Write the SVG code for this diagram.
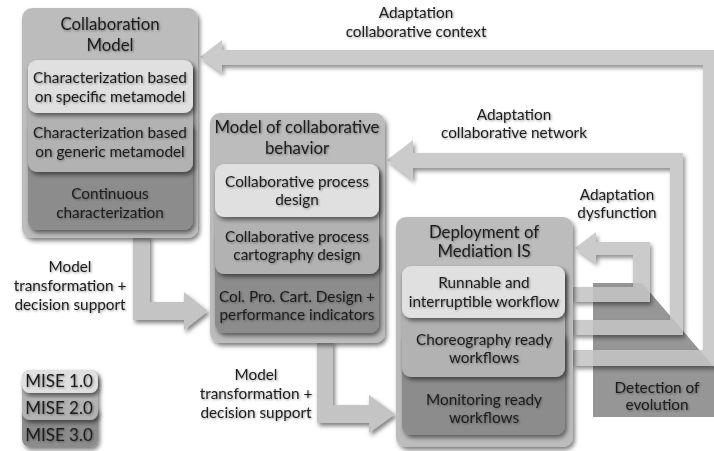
<svg xmlns="http://www.w3.org/2000/svg" width="714" height="451" viewBox="0 0 714 451">
<style>
text{font-family:"Lato","Open Sans",sans-serif;fill:#1c1c1c;text-anchor:middle;filter:url(#ts)}
.t{font-size:16.8px}
.s{font-size:15.3px}
.g{font-size:17px}
.outer{fill:#bcbcbc;filter:url(#sh)}
.l1{fill:#e0e0e0;filter:url(#sh)}
.l2{fill:#b2b2b2;filter:url(#sh)}
.l3{fill:#8c8c8c;filter:url(#sh)}
.bar{fill:#c4c4c4;filter:url(#sh)}
</style>
<defs>
<filter id="sh" x="-10%" y="-10%" width="130%" height="130%">
<feDropShadow dx="2" dy="3" stdDeviation="2" flood-color="#000" flood-opacity="0.5"/>
</filter>
<filter id="ts" x="-10%" y="-30%" width="120%" height="160%">
<feDropShadow dx="1" dy="1" stdDeviation="1.3" flood-color="#000" flood-opacity="0.4"/>
</filter>
</defs>
<rect width="714" height="451" fill="#fff"/>

<g id="detection">
<polygon points="593,283 642,283 714,367 714,417 593,417" fill="#969696"/>
<text class="s" x="657" y="393">Detection of</text>
<text class="s" x="657" y="410">evolution</text>
</g>

<g id="connectors">
<path class="bar" opacity="0.88" d="M573,366 L718,366 L718,50 L222,50 L222,40 L200,57 L222,73 L222,65 L703,65 L703,350 L573,350 Z"/>
<path class="bar" opacity="0.88" d="M573,335 L683,335 L683,153 L413,153 L413,140 L387,160 L413,180 L413,168 L670,168 L670,320 L573,320 Z"/>
<path class="bar" opacity="0.88" d="M573,302 L650,302 L650,242 L596,242 L596,232 L575,248 L596,263 L596,255 L633,255 L633,287 L573,287 Z"/>
<path class="bar" d="M133,236 L150,236 L150,302 L184,302 L184,292 L208,311 L184,330 L184,320 L133,320 Z"/>
<path class="bar" d="M317,341 L333,341 L333,405 L369,405 L369,395 L395,414 L369,433 L369,423 L317,423 Z"/>
<text class="s" x="416" y="18">Adaptation</text>
<text class="s" x="416" y="37">collaborative context</text>
<text class="s" x="514" y="120">Adaptation</text>
<text class="s" x="514" y="138">collaborative network</text>
<text class="s" x="617" y="200">Adaptation</text>
<text class="s" x="617" y="218">dysfunction</text>
<text class="s" x="70" y="272">Model</text>
<text class="s" x="70" y="291">transformation +</text>
<text class="s" x="70" y="310">decision support</text>
<text class="s" x="256" y="380">Model</text>
<text class="s" x="256" y="399">transformation +</text>
<text class="s" x="256" y="418">decision support</text>
</g>

<g id="collaboration-model">
<rect class="outer" x="22" y="8" width="176" height="230" rx="10"/>
<rect class="l3" x="28" y="120" width="165" height="110" rx="9"/>
<rect class="l2" x="28" y="60" width="165" height="112" rx="9"/>
<rect class="l1" x="28" y="60" width="165" height="53" rx="9"/>
<text class="t" x="110" y="30">Collaboration</text>
<text class="t" x="110" y="51">Model</text>
<text class="s" x="110" y="83">Characterization based</text>
<text class="s" x="110" y="102">on specific metamodel</text>
<text class="s" x="110" y="138">Characterization based</text>
<text class="s" x="110" y="157">on generic metamodel</text>
<text class="s" x="110" y="199">Continuous</text>
<text class="s" x="110" y="218">characterization</text>
</g>

<g id="collaborative-behavior">
<rect class="outer" x="210" y="113" width="175" height="230" rx="10"/>
<rect class="l3" x="215" y="230" width="164" height="103" rx="9"/>
<rect class="l2" x="215" y="164" width="164" height="110" rx="9"/>
<rect class="l1" x="215" y="164" width="164" height="53" rx="9"/>
<text class="t" x="297" y="133">Model of collaborative</text>
<text class="t" x="297" y="154">behavior</text>
<text class="s" x="297" y="187">Collaborative process</text>
<text class="s" x="297" y="205">design</text>
<text class="s" x="297" y="242">Collaborative process</text>
<text class="s" x="297" y="260">cartography design</text>
<text class="s" x="297" y="302">Col. Pro. Cart. Design +</text>
<text class="s" x="297" y="320">performance indicators</text>
</g>

<g id="deployment">
<rect class="outer" x="396" y="217" width="177" height="230" rx="10"/>
<rect class="l3" x="402" y="330" width="163" height="105" rx="9"/>
<rect class="l2" x="402" y="266" width="163" height="111" rx="9"/>
<rect class="l1" x="402" y="266" width="163" height="52" rx="9"/>
<text class="t" x="484" y="238">Deployment of</text>
<text class="t" x="484" y="257">Mediation IS</text>
<text class="s" x="484" y="288">Runnable and</text>
<text class="s" x="484" y="307">interruptible workflow</text>
<text class="s" x="484" y="345">Choreography ready</text>
<text class="s" x="484" y="363">workflows</text>
<text class="s" x="484" y="405">Monitoring ready</text>
<text class="s" x="484" y="423">workflows</text>
</g>

<g id="legend">
<rect class="l3" x="22" y="405" width="76" height="42" rx="8"/>
<rect class="l2" x="22" y="370" width="76" height="50" rx="8"/>
<rect class="l1" x="22" y="370" width="76" height="23" rx="8"/>
<text class="g" x="59" y="387">MISE 1.0</text>
<text class="g" x="59" y="414">MISE 2.0</text>
<text class="g" x="59" y="441">MISE 3.0</text>
</g>
</svg>
